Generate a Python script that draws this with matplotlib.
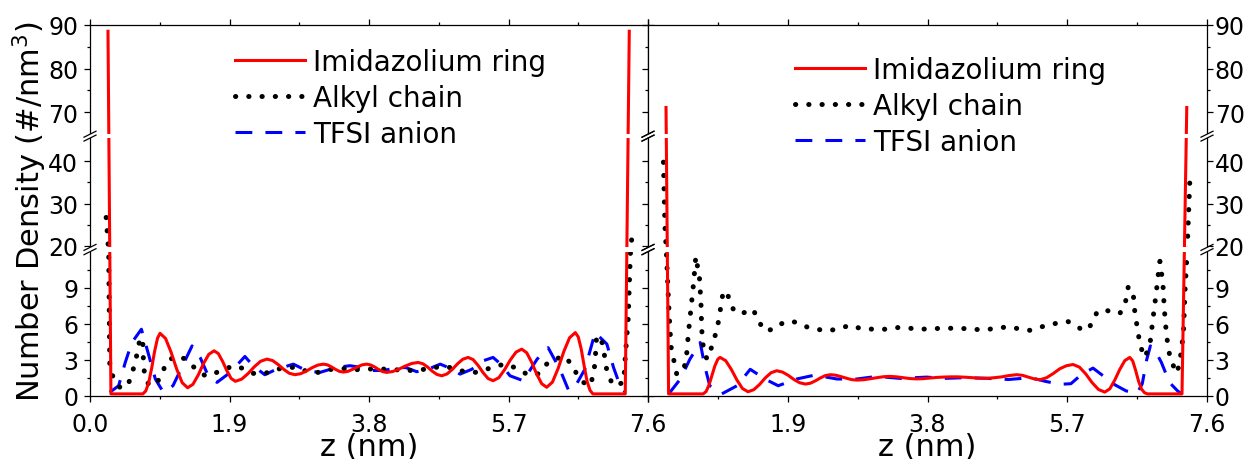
import numpy as np
import matplotlib
matplotlib.use("Agg")
import matplotlib.pyplot as plt
from matplotlib.lines import Line2D
from matplotlib.patches import Rectangle
import matplotlib.transforms as mtransforms

# ---------------------------------------------------------------- data
# Left panel
zL_ring = [0.245, 0.285, 0.50, 0.72, 0.76, 0.80, 0.84, 0.88, 0.92, 0.954,
           1.029, 1.104, 1.18, 1.255, 1.33,
           1.402, 1.474, 1.546, 1.618, 1.69,
           1.748, 1.806, 1.864, 1.922, 1.98,
           2.066, 2.152, 2.238, 2.324, 2.41,
           2.486, 2.562, 2.638, 2.714, 2.79,
           2.868, 2.946, 3.024, 3.102, 3.18,
           3.234, 3.288, 3.342, 3.396, 3.45,
           3.514, 3.578, 3.642, 3.706, 3.77,
           3.824, 3.878, 3.932, 3.986, 4.04,
           4.126, 4.212, 4.298, 4.384, 4.47,
           4.534, 4.598, 4.662, 4.726, 4.79,
           4.862, 4.934, 5.006, 5.078, 5.15,
           5.218, 5.286, 5.354, 5.422, 5.49,
           5.568, 5.646, 5.724, 5.802, 5.88,
           5.948, 6.016, 6.084, 6.152, 6.22,
           6.298, 6.376, 6.454, 6.532, 6.61,
           6.65, 6.69, 6.73, 6.77, 6.81, 6.85, 7.29, 7.345]
L_ring = [88.5, 0.15, 0.15, 0.15, 0.4, 1.1, 2.3, 3.7, 4.8, 5.2,
          4.77, 3.63, 2.23, 1.09, 0.66,
          0.95, 1.72, 2.68, 3.45, 3.74,
          3.51, 2.86, 2.08, 1.44, 1.2,
          1.38, 1.84, 2.41, 2.87, 3.05,
          2.93, 2.6, 2.2, 1.87, 1.75,
          1.83, 2.05, 2.33, 2.55, 2.63,
          2.57, 2.40, 2.20, 2.03, 1.97,
          2.03, 2.2, 2.4, 2.57, 2.63,
          2.56, 2.39, 2.18, 2.01, 1.94,
          2.02, 2.23, 2.48, 2.69, 2.77,
          2.66, 2.39, 2.04, 1.77, 1.66,
          1.81, 2.19, 2.66, 3.04, 3.19,
          3.01, 2.52, 1.92, 1.43, 1.25,
          1.5, 2.16, 2.97, 3.63, 3.88,
          3.58, 2.78, 1.80, 1.0, 0.70,
          1.13, 2.27, 3.69, 4.83, 5.26,
          4.9, 3.9, 2.5, 1.2, 0.45, 0.15, 0.15, 88.5]

zL_alkyl = [0.22, 0.245, 0.255, 0.265, 0.27, 0.34, 0.42, 0.52, 0.57, 0.63, 0.66, 0.68,
            0.72, 0.73, 0.75, 0.81, 0.92, 0.99, 1.04, 1.17, 1.28, 1.39, 1.57, 1.68,
            1.81, 1.98, 2.11, 2.22, 2.38, 2.50, 2.64, 2.82, 2.95, 3.11, 3.29, 3.45,
            3.59, 3.75, 3.90, 4.05, 4.20, 4.35, 4.50, 4.65, 4.80, 4.95, 5.10, 5.25,
            5.40, 5.54, 5.68, 5.81, 5.95, 6.09, 6.24, 6.45, 6.56, 6.63, 6.72, 6.81,
            6.86, 6.88, 6.90, 6.99, 7.02, 7.06, 7.13, 7.27, 7.29, 7.33, 7.36, 7.39]
L_alkyl = [26.7, 20.8, 11.6, 5.0, 2.16, 1.25, 0.6, 0.97, 1.75, 3.19, 4.0, 4.85,
           4.3, 2.5, 1.5, 0.83, 1.16, 1.94, 2.82, 3.32, 3.1, 2.5, 1.66, 1.8,
           2.2, 2.5, 2.2, 1.86, 1.86, 2.08, 2.36, 2.36, 2.03, 1.94, 2.2, 2.27,
           2.16, 2.2, 2.25, 2.2, 2.15, 2.1, 2.15, 2.3, 2.45, 2.3, 2.0, 1.95,
           2.2, 2.5, 2.63, 2.27, 1.8, 1.75, 2.77, 3.32, 2.63, 1.8, 1.11, 0.83,
           1.8, 2.9, 5.0, 4.3, 2.63, 1.66, 0.83, 1.1, 3.19, 6.4, 11.8, 24.0]

zL_tfsi = [0.27, 0.39, 0.48, 0.57, 0.70, 0.79, 0.89, 1.00, 1.13, 1.25, 1.39, 1.50,
           1.61, 1.73, 1.91, 2.11, 2.22, 2.38, 2.54, 2.77, 2.95, 3.13, 3.36, 3.54,
           3.70, 3.85, 4.00, 4.15, 4.30, 4.45, 4.60, 4.77, 4.90, 5.04, 5.20, 5.35,
           5.49, 5.60, 5.72, 5.90, 6.09, 6.24, 6.40, 6.52, 6.62, 6.74, 6.88, 7.04,
           7.13, 7.22, 7.29]
L_tfsi = [0.28, 0.83, 2.77, 4.43, 5.54, 3.6, 1.39, 0.28, 0.83, 2.36, 4.15, 3.19,
          1.66, 1.11, 1.94, 3.27, 2.5, 1.75, 2.2, 2.63, 2.08, 1.94, 2.36, 2.5,
          2.35, 2.1, 2.1, 2.3, 2.35, 2.0, 2.2, 2.63, 2.3, 1.8, 2.2, 2.9,
          3.19, 2.6, 1.66, 1.25, 3.05, 4.0, 2.2, 0.42, 0.9, 2.2, 5.26, 4.3,
          2.36, 0.83, 0.28]

# Right panel
zR_ring = [0.245, 0.28, 0.75, 0.79, 0.83, 0.87, 0.91, 0.95, 0.98,
           1.056, 1.132, 1.208, 1.284, 1.36,
           1.438, 1.516, 1.594, 1.672, 1.75,
           1.828, 1.906, 1.984, 2.062, 2.14,
           2.208, 2.276, 2.344, 2.412, 2.48,
           2.552, 2.624, 2.696, 2.768, 2.84,
           2.93, 3.02, 3.11, 3.20, 3.29,
           3.38, 3.47, 3.56, 3.65, 3.74, 3.83, 3.92, 4.01, 4.11, 4.21,
           4.31, 4.41, 4.51, 4.61, 4.71, 4.81, 4.91, 5.01, 5.09, 5.17,
           5.25, 5.33, 5.42, 5.51, 5.60, 5.69, 5.78,
           5.866, 5.952, 6.038, 6.124, 6.21,
           6.278, 6.346, 6.414, 6.482, 6.55,
           6.59, 6.63, 6.67, 6.71, 6.75, 6.79, 7.26, 7.325]
R_ring = [71.1, 0.15, 0.15, 0.35, 0.9, 1.7, 2.5, 3.05, 3.19,
          2.92, 2.20, 1.32, 0.60, 0.33,
          0.50, 0.93, 1.48, 1.91, 2.08,
          1.97, 1.70, 1.35, 1.08, 0.97,
          1.04, 1.24, 1.48, 1.68, 1.75,
          1.71, 1.59, 1.46, 1.34, 1.30,
          1.33, 1.41, 1.50, 1.58, 1.61,
          1.57, 1.50, 1.43, 1.40, 1.42, 1.47, 1.52, 1.55, 1.57, 1.57,
          1.54, 1.50, 1.46, 1.45, 1.50, 1.57, 1.68, 1.75, 1.70, 1.55,
          1.40, 1.33, 1.50, 1.85, 2.25, 2.50, 2.60,
          2.38, 1.81, 1.09, 0.52, 0.30,
          0.57, 1.30, 2.19, 2.92, 3.19,
          2.9, 2.1, 1.2, 0.55, 0.25, 0.15, 0.15, 71.1]

zR_alkyl = [0.21, 0.23, 0.25, 0.28, 0.30, 0.32, 0.37, 0.39, 0.48, 0.52, 0.55, 0.59,
            0.62, 0.65, 0.70, 0.72, 0.73, 0.75, 0.80, 0.89, 0.96, 1.02, 1.07, 1.11,
            1.16, 1.25, 1.34, 1.43, 1.50, 1.59, 1.70, 1.79, 1.93, 2.02, 2.18, 2.29,
            2.45, 2.61, 2.75, 2.88, 3.06, 3.25, 3.40, 3.56, 3.70, 4.01, 4.24, 4.56,
            4.88, 5.19, 5.47, 5.71, 5.83, 5.92, 6.01, 6.10, 6.21, 6.33, 6.42, 6.49,
            6.53, 6.60, 6.62, 6.67, 6.69, 6.76, 6.83, 6.87, 6.91, 6.94, 6.96, 7.00,
            7.02, 7.05, 7.10, 7.19, 7.23, 7.28, 7.30, 7.33, 7.37]
R_alkyl = [39.8, 24.7, 11.9, 7.75, 5.4, 3.6, 2.55, 1.8, 2.08, 3.05, 5.26, 7.6,
           9.4, 11.6, 9.8, 7.75, 5.54, 4.15, 3.05, 4.43, 6.23, 8.6, 8.7, 7.9,
           7.2, 6.8, 7.0, 7.2, 6.23, 5.4, 5.54, 5.95, 6.23, 6.1, 5.68, 5.54,
           5.4, 5.62, 5.87, 5.62, 5.54, 5.54, 5.68, 5.62, 5.54, 5.62, 5.62, 5.48,
           5.73, 5.45, 5.95, 6.18, 5.8, 5.4, 5.8, 6.9, 7.2, 6.85, 6.9, 7.75,
           9.1, 8.3, 6.9, 5.0, 4.15, 3.19, 4.57, 6.64, 8.59, 10.25, 11.2, 9.4,
           7.2, 5.0, 3.05, 1.88, 2.77, 5.26, 8.6, 12.2, 37.0]

zR_tfsi = [0.28, 0.44, 0.57, 0.71, 0.77, 0.84, 1.00, 1.21, 1.39, 1.59, 1.77, 2.02,
           2.27, 2.57, 2.84, 3.11, 3.43, 3.79, 4.01, 4.30, 4.60, 4.90, 5.20, 5.40,
           5.60, 5.75, 5.90, 6.05, 6.20, 6.35, 6.50, 6.65, 6.72, 6.78, 6.83, 6.90,
           6.98, 7.09, 7.20, 7.26]
R_tfsi = [0.14, 1.39, 3.05, 4.43, 2.5, 0.83, 0.14, 0.83, 2.2, 1.39, 0.83, 1.39,
          1.72, 1.39, 1.39, 1.61, 1.44, 1.55, 1.44, 1.5, 1.45, 1.35, 1.5, 1.2,
          0.95, 1.0, 1.8, 2.3, 1.6, 0.9, 0.4, 0.2, 1.0, 3.0, 4.15, 3.7,
          2.77, 1.1, 0.4, 0.14]

series_names = ["Imidazolium ring", "Alkyl chain", "TFSI anion"]
x_ticks = [0.0, 1.9, 3.8, 5.7, 7.6]
x_tick_labels = ["0.0", "1.9", "3.8", "5.7", "7.6"]
x_minor = [0.95, 2.85, 4.75, 6.65]
y_ticks = [0, 3, 6, 9, 20, 30, 40, 70, 80, 90]
y_minor = [1.5, 4.5, 7.5, 10.5, 25, 35, 75, 85]

# ------------------------------------------------- broken y-axis scale
# value knots and their height along the axis; the intervals
# 12.0-19.6 and 45.5-65.0 are squeezed into the break gaps
seg_vals = np.array([-100.0, 0.0, 12.0, 19.6, 45.5, 65.0, 90.0, 200.0])
seg_pos = np.array([-1204.0, 0.0, 144.0, 148.3, 257.6, 261.5, 371.0, 852.8])
gaps = [(12.0, 19.6), (45.5, 65.0)]


def fwd(v):
    return np.interp(np.asarray(v, dtype=float), seg_vals, seg_pos)


def inv(p):
    return np.interp(np.asarray(p, dtype=float), seg_pos, seg_vals)


plt.rcParams["font.family"] = ["DejaVu Sans"]
plt.rcParams["axes.linewidth"] = 0.9

W, H, DPI = 1247, 460, 100
fig = plt.figure(figsize=(W / DPI, H / DPI), dpi=DPI)

ax_l = fig.add_axes([90 / W, 1 - 396.7 / H, 558 / W, 371 / H])
ax_r = fig.add_axes([648 / W, 1 - 396.7 / H, 559 / W, 371 / H])

styles = [
    dict(color="#ff0000", lw=2.2, ls="-", zorder=2.2),
    dict(color="black", lw=3.6, ls=(0, (0.05, 2.6)), dash_capstyle="round", zorder=2.1),
    dict(color="#0000ff", lw=2.2, ls=(0, (5.5, 4.3)), zorder=2.0),
]

panels = [
    (ax_l, [(zL_ring, L_ring), (zL_alkyl, L_alkyl), (zL_tfsi, L_tfsi)]),
    (ax_r, [(zR_ring, R_ring), (zR_alkyl, R_alkyl), (zR_tfsi, R_tfsi)]),
]

for ax, data in panels:
    for (zz, vv), st, name in zip(data, styles, series_names):
        ax.plot(zz, vv, label=name, **st)
    ax.set_yscale("function", functions=(fwd, inv))
    ax.set_xlim(0, 7.6)
    ax.set_ylim(0, 90)
    ax.set_xticks(x_ticks)
    ax.set_xticklabels(x_tick_labels)
    ax.set_xticks(x_minor, minor=True)
    ax.set_yticks(y_ticks)
    ax.set_yticks(y_minor, minor=True)
    ax.tick_params(which="both", direction="out", width=0.9, top=True, right=True,
                   left=True, bottom=True, labelsize=17)
    ax.tick_params(which="major", length=4.0)
    ax.tick_params(which="minor", length=2.2)
    ax.tick_params(axis="x", pad=7.5)
    ax.set_xlabel("z (nm)", fontsize=22, labelpad=-2.5)
    # white bands hide the curves and spines inside the breaks
    bt = mtransforms.blended_transform_factory(ax.transAxes, ax.transData)
    for lo, hi in gaps:
        ax.add_patch(Rectangle((-0.008, lo), 1.016, hi - lo, transform=bt,
                               facecolor="white", edgecolor="none",
                               clip_on=False, zorder=3))

ax_l.tick_params(axis="y", labelleft=True, labelright=False, pad=4.5)
ax_r.tick_params(axis="y", labelleft=False, labelright=True, pad=1.5)
ax_r.set_xticklabels([""] + x_tick_labels[1:])
ax_l.set_ylabel("Number Density (#/nm$^3$)", fontsize=22)
ax_l.yaxis.set_label_coords(-0.0735, 0.5)

leg_kw = dict(frameon=False, fontsize=20, borderpad=0, borderaxespad=0,
              handlelength=2.52, handletextpad=0.3, labelspacing=0.29,
              loc="upper left", bbox_transform=fig.transFigure)
ax_l.legend(bbox_to_anchor=(235 / W, 1 - 49 / H), **leg_kw)
ax_r.legend(bbox_to_anchor=(795 / W, 1 - 57 / H), **leg_kw)

# "//" break marks on every vertical spine
ident = mtransforms.IdentityTransform()
for ax in (ax_l, ax_r):
    for lo, hi in gaps:
        for xa in (0.0, 1.0):
            for yv in (lo, hi):
                xd = ax.transAxes.transform((xa, 0))[0]
                yd = ax.transData.transform((0, yv))[1]
                fig.add_artist(Line2D([xd - 6, xd + 6], [yd - 3, yd + 3],
                                      transform=ident, color="black", lw=0.9,
                                      zorder=5))

fig.savefig("out.png", dpi=DPI)
